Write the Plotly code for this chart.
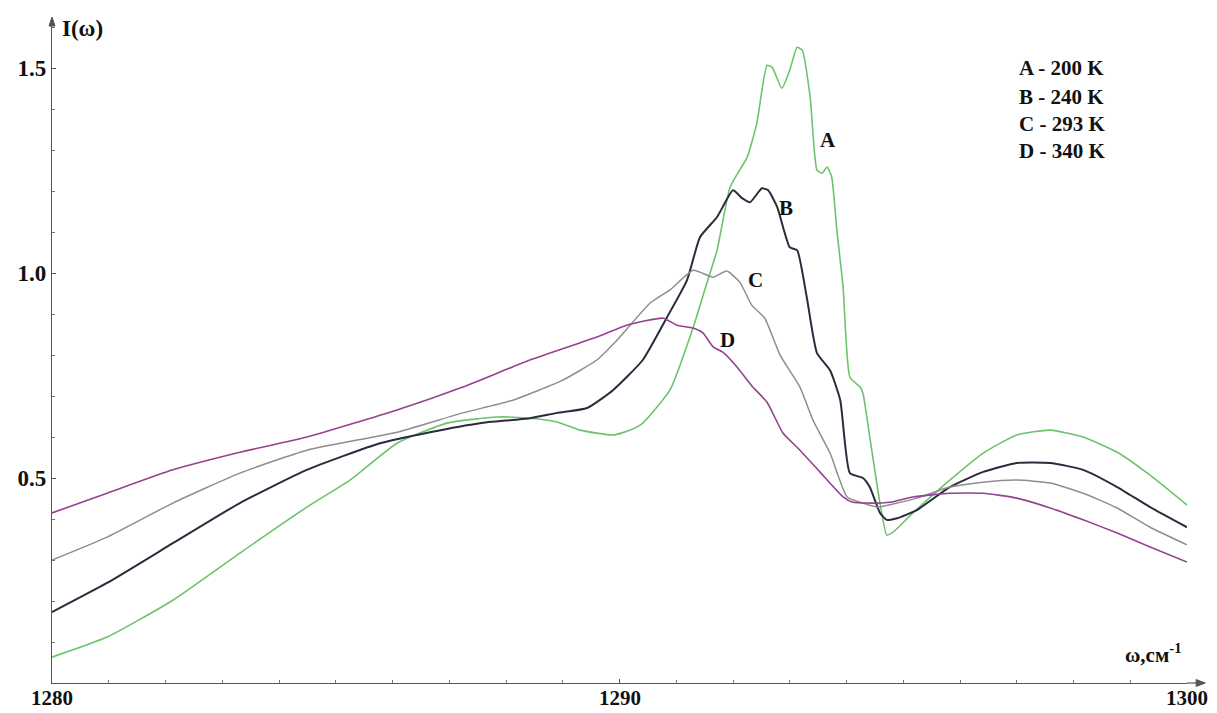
import plotly.graph_objects as go

# ---- data (omega in cm^-1, intensity I) ----
omega_A = [1280.00, 1280.97, 1282.13, 1283.31, 1284.49, 1285.25, 1286.08, 1286.96, 1287.84, 1288.42,
           1288.90, 1289.30, 1289.89, 1290.19, 1290.41, 1290.89, 1291.30, 1291.54, 1291.72, 1291.95,
           1292.25, 1292.42, 1292.60, 1292.69, 1292.86, 1293.00, 1293.13, 1293.22, 1293.36, 1293.48,
           1293.57, 1293.66, 1293.74, 1293.83, 1293.94, 1294.06, 1294.24, 1294.29, 1294.41, 1294.59,
           1294.71, 1294.82, 1295.17, 1295.82, 1296.41, 1297.00, 1297.59, 1298.17, 1298.77, 1299.35,
           1300.00]
I_A = [0.063, 0.112, 0.202, 0.317, 0.429, 0.495, 0.585, 0.634, 0.649, 0.646,
       0.637, 0.617, 0.605, 0.617, 0.634, 0.715, 0.868, 0.976, 1.056, 1.210,
       1.283, 1.366, 1.507, 1.502, 1.451, 1.495, 1.551, 1.544, 1.429, 1.251,
       1.244, 1.259, 1.234, 1.105, 0.966, 0.746, 0.722, 0.707, 0.600, 0.439,
       0.361, 0.368, 0.415, 0.495, 0.561, 0.605, 0.617, 0.600, 0.563, 0.507,
       0.434]

omega_B = [1280.00, 1280.97, 1282.13, 1283.31, 1284.49, 1285.78, 1286.66, 1287.54, 1288.42, 1288.90,
           1289.43, 1289.89, 1290.41, 1290.84, 1291.19, 1291.42, 1291.72, 1292.00, 1292.16, 1292.30,
           1292.51, 1292.62, 1292.78, 1293.00, 1293.13, 1293.30, 1293.48, 1293.71, 1293.89, 1294.06,
           1294.29, 1294.41, 1294.59, 1294.71, 1294.89, 1295.24, 1295.82, 1296.41, 1297.00, 1297.59,
           1298.17, 1298.77, 1299.35, 1300.00]
I_B = [0.173, 0.244, 0.341, 0.439, 0.520, 0.585, 0.612, 0.634, 0.646, 0.659,
       0.671, 0.715, 0.788, 0.893, 0.983, 1.088, 1.137, 1.202, 1.183, 1.173,
       1.207, 1.202, 1.161, 1.063, 1.056, 0.941, 0.805, 0.763, 0.690, 0.512,
       0.500, 0.478, 0.415, 0.398, 0.402, 0.422, 0.478, 0.515, 0.537, 0.537,
       0.520, 0.478, 0.429, 0.380]

omega_C = [1280.00, 1280.97, 1282.13, 1283.31, 1284.49, 1286.08, 1287.24, 1288.12, 1289.00, 1289.60,
           1289.96, 1290.54, 1290.89, 1291.30, 1291.65, 1291.89, 1292.12, 1292.33, 1292.56, 1292.83,
           1293.18, 1293.41, 1293.71, 1294.01, 1294.29, 1294.54, 1294.89, 1295.24, 1295.82, 1296.41,
           1297.00, 1297.59, 1298.17, 1298.77, 1299.35, 1300.00]
I_C = [0.300, 0.356, 0.439, 0.512, 0.568, 0.612, 0.659, 0.690, 0.739, 0.788,
       0.837, 0.927, 0.959, 1.007, 0.990, 1.005, 0.978, 0.922, 0.890, 0.800,
       0.722, 0.641, 0.561, 0.454, 0.439, 0.429, 0.439, 0.451, 0.478, 0.490,
       0.495, 0.488, 0.463, 0.427, 0.380, 0.337]

omega_D = [1280.00, 1280.97, 1282.13, 1283.31, 1284.49, 1286.08, 1287.24, 1288.42, 1289.60, 1290.13,
           1290.77, 1291.01, 1291.30, 1291.47, 1291.65, 1291.82, 1292.07, 1292.35, 1292.60, 1292.88,
           1293.18, 1293.53, 1293.94, 1294.11, 1294.36, 1294.77, 1295.17, 1295.82, 1296.41, 1297.00,
           1297.59, 1298.17, 1298.77, 1299.35, 1300.00]
I_D = [0.415, 0.463, 0.520, 0.563, 0.600, 0.666, 0.722, 0.788, 0.844, 0.873,
       0.890, 0.873, 0.866, 0.854, 0.820, 0.807, 0.771, 0.722, 0.685, 0.610,
       0.568, 0.515, 0.454, 0.441, 0.439, 0.441, 0.454, 0.463, 0.463, 0.451,
       0.427, 0.398, 0.366, 0.332, 0.295]

curve_names = ["A", "B", "C", "D"]
curve_colors = ["#6cc36c", "#2b2b3e", "#8e8e8e", "#93428f"]
curve_widths = [1.6, 2.0, 1.5, 1.6]
legend_lines = ["A - 200 K", "B - 240 K", "C - 293 K", "D - 340 K"]
label_pos = [(1293.67, 1.324), (1292.93, 1.159), (1292.39, 0.983), (1291.91, 0.837)]
x_ticks = [1280, 1290, 1300]
y_ticks = [0.5, 1.0, 1.5]
y_ticktext = ["0.5", "1.0", "1.5"]

series = [(omega_A, I_A), (omega_B, I_B), (omega_C, I_C), (omega_D, I_D)]

FONT = "Liberation Serif"
fig = go.Figure()
for (xs, ys), name, col, w in zip(series, curve_names, curve_colors, curve_widths):
    fig.add_trace(go.Scatter(x=xs, y=ys, mode="lines", name=name,
                             line=dict(color=col, width=w, shape="spline", smoothing=0.5),
                             showlegend=False))

annotations = []
for (lx, ly), name in zip(label_pos, curve_names):
    annotations.append(dict(x=lx, y=ly, xref="x", yref="y", text="<b>%s</b>" % name,
                            showarrow=False, font=dict(family=FONT, size=21, color="#111")))

legend_y = [0.926, 0.883, 0.842, 0.801]
for t, yy in zip(legend_lines, legend_y):
    annotations.append(dict(x=0.850, y=yy, xref="paper", yref="paper", text="<b>%s</b>" % t,
                            showarrow=False, xanchor="left", yanchor="middle",
                            font=dict(family=FONT, size=21, color="#111")))

# x tick labels (placed just under the axis line)
for v in x_ticks:
    annotations.append(dict(x=v, y=0, xref="x", yref="paper", text="<b>%d</b>" % v,
                            showarrow=False, xanchor="center", yanchor="top", yshift=-1,
                            font=dict(family=FONT, size=21, color="#111")))

# axis titles
annotations.append(dict(x=0.007, y=0.986, xref="paper", yref="paper", text="<b>I(ω)</b>",
                        showarrow=False, xanchor="left", yanchor="middle",
                        font=dict(family=FONT, size=23, color="#111")))
annotations.append(dict(x=0.944, y=0.045, xref="paper", yref="paper",
                        text="<b>ω,см<sup>-1</sup></b>",
                        showarrow=False, xanchor="left", yanchor="middle",
                        font=dict(family=FONT, size=21, color="#111")))

# axis arrows as shapes
shapes = [
    dict(type="line", xref="paper", yref="paper", x0=1.0, x1=1.016, y0=0, y1=0,
         line=dict(color="#555", width=1.2)),
    dict(type="path", xref="paper", yref="paper", xsizemode="pixel", ysizemode="pixel",
         xanchor=1.016, yanchor=0, path="M -9 -3.5 L 0 0 L -9 3.5 Z",
         fillcolor="#555", line=dict(color="#555", width=1)),
    dict(type="path", xref="paper", yref="paper", xsizemode="pixel", ysizemode="pixel",
         xanchor=0, yanchor=1.0, path="M -3 -7 L 0 2 L 3 -7 Z",
         fillcolor="#555", line=dict(color="#555", width=1)),
]

# page body has an 8px default margin; figure sized to fit the 1217x713 window
fig.update_layout(
    width=1209, height=705,
    margin=dict(l=44, r=30, t=11, b=30, autoexpand=False),
    paper_bgcolor="white", plot_bgcolor="white",
    annotations=annotations, shapes=shapes,
    xaxis=dict(range=[1280, 1300], tickvals=x_ticks, showticklabels=False,
               showgrid=False, zeroline=False, showline=True, linecolor="#555", linewidth=1.2,
               ticks="inside", ticklen=4, tickcolor="#555",
               minor=dict(dtick=1, ticks="inside", ticklen=3, tickcolor="#777"),
               automargin=False),
    yaxis=dict(range=[0, 1.62], tickvals=y_ticks, ticktext=["<b>%s</b>" % t for t in y_ticktext],
               showgrid=False, zeroline=False, showline=True, linecolor="#555", linewidth=1.2,
               ticks="inside", ticklen=4, tickcolor="#555",
               minor=dict(dtick=0.1, ticks="inside", ticklen=3, tickcolor="#777"),
               tickfont=dict(family=FONT, size=23, color="#111"), automargin=False),
)

fig.write_html("out.html")
